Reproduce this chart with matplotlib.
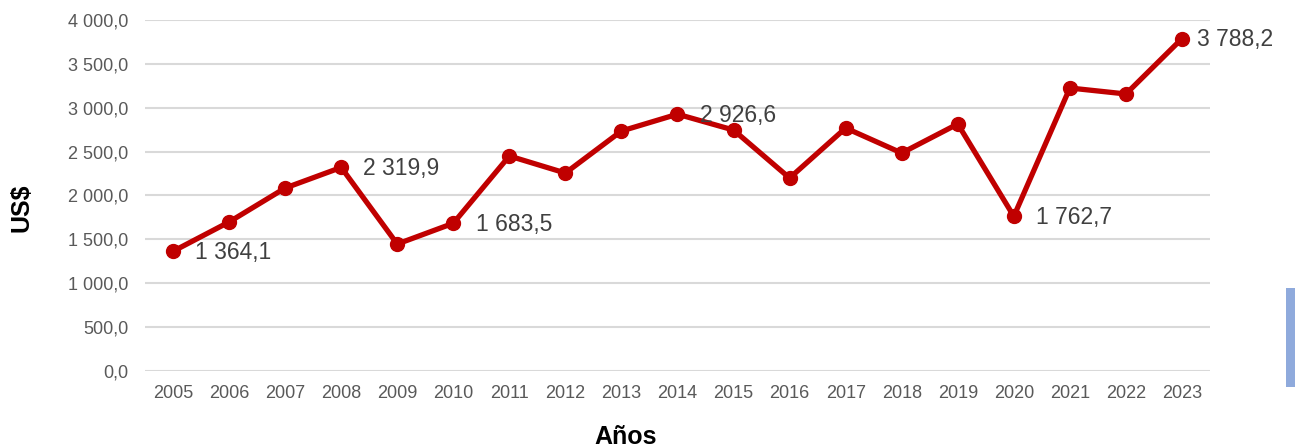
import matplotlib
matplotlib.use("Agg")
import matplotlib.pyplot as plt
from matplotlib.patches import Rectangle
from matplotlib.ticker import FuncFormatter

plt.rcParams["font.family"] = ["Liberation Sans", "DejaVu Sans"]

years = [str(y) for y in range(2005, 2024)]
values = [1364.1, 1698, 2085, 2319.9, 1447, 1683.5, 2450, 2256, 2735, 2926.6,
          2746, 2199, 2769, 2484, 2815, 1762.7, 3225, 3157, 3788.2]
labeled_years = ["2005", "2008", "2010", "2014", "2020", "2023"]


def fmt_num(v, decimals=1):
    s = f"{v:,.{decimals}f}"
    return s.replace(",", " ").replace(".", ",")


fig = plt.figure(figsize=(12.95, 4.48), dpi=100)
ax = fig.add_axes([145 / 1295, 1 - 371 / 448, (1210 - 145) / 1295, (371 - 20) / 448])

x = list(range(len(years)))
ax.plot(x, values, color="#C00000", linewidth=3.8, marker="o", markersize=10,
        zorder=3)

for i, (yr, v) in enumerate(zip(years, values)):
    if yr in labeled_years:
        dx = 11 if yr == "2023" else 16
        ax.annotate(fmt_num(v), (i, v), xytext=(dx, -1), textcoords="offset points",
                    ha="left", va="center", fontsize=16.5, color="#404040", zorder=4)

ax.set_xlim(-0.5, len(years) - 0.5)
ax.set_ylim(0, 4000)
ax.set_yticks(range(0, 4001, 500))
ax.yaxis.set_major_formatter(FuncFormatter(lambda v, p: fmt_num(v)))
ax.set_xticks(x)
ax.set_xticklabels(years)
ax.tick_params(axis="both", length=0, labelsize=13, colors="#595959")
ax.tick_params(axis="x", pad=10)
ax.tick_params(axis="y", pad=12)
ax.grid(axis="y", color="#D9D9D9", linewidth=1.5)
ax.set_axisbelow(True)
for s in ax.spines.values():
    s.set_visible(False)

fig.text(22 / 1295, 1 - 208 / 448, "US$", rotation=90, ha="center", va="center",
         fontsize=18, fontweight="bold", color="black")
fig.text(626 / 1295, 1 - 437 / 448, "Años", ha="center", va="center",
         fontsize=18, fontweight="bold", color="black")

fig.patches.append(Rectangle((1286 / 1295, 1 - 387 / 448), 9 / 1295, 99 / 448,
                             transform=fig.transFigure, facecolor="#8FAADC",
                             edgecolor="none"))

fig.savefig("out.png", dpi=100, facecolor="white")
